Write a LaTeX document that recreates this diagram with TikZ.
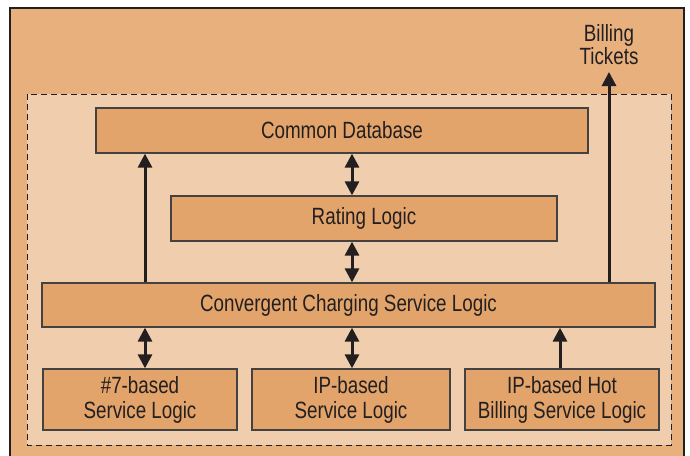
\documentclass[tikz,border=0pt]{standalone}
\usepackage{fontspec}
\setmainfont[FakeStretch=0.8]{Liberation Sans}
\usetikzlibrary{arrows.meta}
\definecolor{outerfill}{RGB}{232,176,125}
\definecolor{innerfill}{RGB}{240,205,172}
\definecolor{boxfill}{RGB}{226,164,106}
\definecolor{ink}{RGB}{35,31,32}
\tikzset{
  blockbox/.style={draw=ink!85, line width=1.3pt, fill=boxfill, inner sep=0pt,
    text=ink, font=\fontsize{23.5}{25}\selectfont, align=center},
  link/.style={draw=ink, line width=3pt, -{Triangle[width=14pt,length=14pt]}},
  duallink/.style={draw=ink, line width=3pt, {Triangle[width=14pt,length=14pt]}-{Triangle[width=14pt,length=14pt]}},
}
\begin{document}
\begin{tikzpicture}[x=1pt,y=-1pt]
\useasboundingbox (0,0) rectangle (690,455);
\clip (0,0) rectangle (690,455);
% outer panel and dashed service area
\draw[fill=outerfill, draw=ink, line width=1.3pt] (10,8) rectangle (684,470);
\draw[fill=innerfill, draw=ink, line width=1pt, dash pattern=on 6pt off 4pt] (27,94) rectangle (671,445);
% blocks
\node[blockbox, minimum width=492pt, minimum height=45pt] (db) at (342,130.5) {Common Database};
\node[blockbox, minimum width=386pt, minimum height=45pt] (rate) at (364,218.5) {Rating Logic};
\node[blockbox, minimum width=613pt, minimum height=44pt] (ccs) at (348.5,305) {Convergent Charging Service Logic};
\node[blockbox, minimum width=194pt, minimum height=61pt] (ss7) at (140,399.5) {\#7-based\\Service Logic};
\node[blockbox, minimum width=198pt, minimum height=61pt] (ip) at (351,399.5) {IP-based\\Service Logic};
\node[blockbox, minimum width=194pt, minimum height=61pt] (hot) at (562,399.5) {IP-based Hot\\Billing Service Logic};
\node[text=ink, font=\fontsize{23.5}{23}\selectfont, align=center, inner sep=0pt] (bt) at (609,45) {Billing\\Tickets};
\coordinate (btin) at (609,72);
% connectors
\draw[link] (ccs.north -| 145,0) -- (db.south -| 145,0);
\draw[duallink] (db.south -| 352,0) -- (rate.north -| 352,0);
\draw[duallink] (rate.south -| 352,0) -- (ccs.north -| 352,0);
\draw[link] (ccs.north -| 609,0) -- (btin);
\draw[duallink] (ccs.south -| 145,0) -- (ss7.north -| 145,0);
\draw[duallink] (ccs.south -| 352,0) -- (ip.north -| 352,0);
\draw[link] (hot.north -| 560,0) -- (ccs.south -| 560,0);
\end{tikzpicture}
\end{document}
